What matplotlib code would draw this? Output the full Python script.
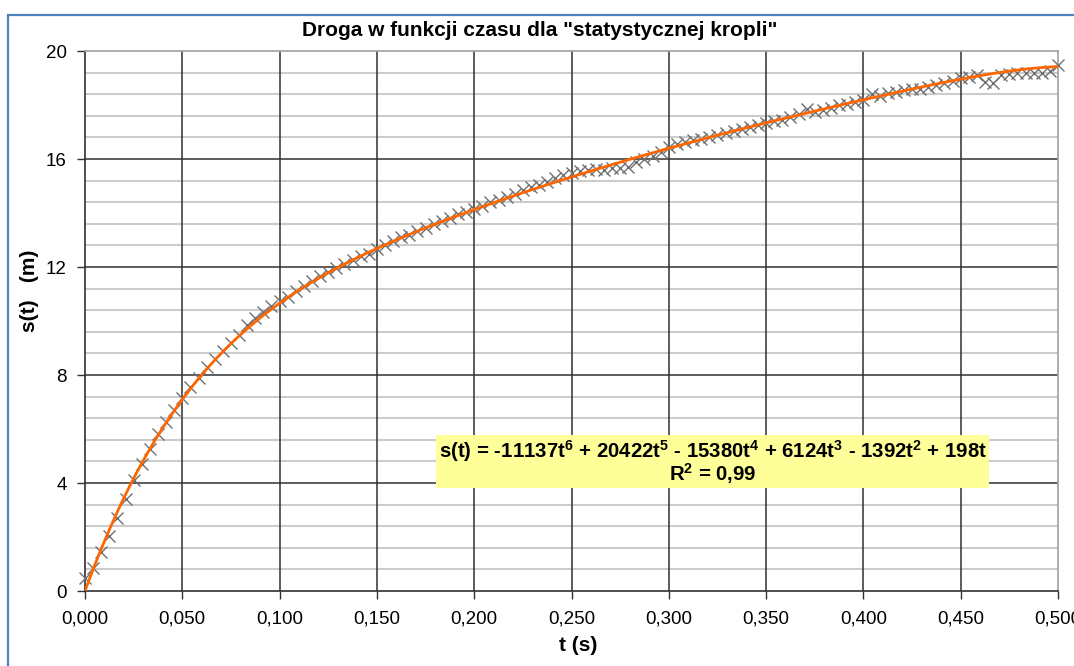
"""Droga w funkcji czasu - Excel-style scatter with polynomial trendline."""
import numpy as np
import matplotlib
matplotlib.use("Agg")
import matplotlib.pyplot as plt
from matplotlib.patches import Rectangle

# ---- data ----
frame_step = 1 / 240  # one marker per frame
s_values = [
    0.50, 0.85, 1.45, 2.05, 2.70, 3.40, 4.10, 4.70, 5.25, 5.80,
    6.25, 6.70, 7.15, 7.55, 7.90, 8.30, 8.60, 8.90, 9.20, 9.50,
    9.85, 10.10, 10.35, 10.55, 10.75, 10.90, 11.10, 11.30, 11.50, 11.65,
    11.80, 11.95, 12.10, 12.25, 12.40, 12.50, 12.65, 12.80, 12.95, 13.10,
    13.20, 13.35, 13.45, 13.60, 13.70, 13.80, 13.95, 14.05, 14.15, 14.25,
    14.40, 14.50, 14.60, 14.70, 14.85, 14.95, 15.05, 15.15, 15.30, 15.40,
    15.50, 15.55, 15.60, 15.62, 15.60, 15.65, 15.68, 15.70, 15.90, 16.00,
    16.10, 16.25, 16.45, 16.55, 16.62, 16.70, 16.75, 16.80, 16.88, 16.95,
    17.05, 17.10, 17.18, 17.25, 17.32, 17.40, 17.45, 17.55, 17.65, 17.85,
    17.75, 17.80, 17.90, 18.00, 18.05, 18.10, 18.20, 18.40, 18.35, 18.45,
    18.50, 18.55, 18.60, 18.60, 18.65, 18.75, 18.80, 18.90, 19.00, 19.05,
    19.10, 18.85, 18.80, 19.10, 19.15, 19.20, 19.20, 19.20, 19.20, 19.25,
    19.48,
]
t_values = np.arange(len(s_values)) * frame_step

# trendline coefficients as printed on the chart (t^6 ... t^1, t^0)
trend_coeffs = [-11137, 20422, -15380, 6124, -1392, 198, 0]

x_ticks = [0.0, 0.05, 0.10, 0.15, 0.20, 0.25, 0.30, 0.35, 0.40, 0.45, 0.50]
x_tick_labels = [f"{v:.3f}".replace(".", ",") for v in x_ticks]
y_ticks = [0, 4, 8, 12, 16, 20]
y_minor = np.arange(0, 20.01, 0.8)

title = 'Droga w funkcji czasu dla "statystycznej kropli"'
eq_text = ("s(t) = -11137t$^6$ + 20422t$^5$ - 15380t$^4$ + 6124t$^3$"
           " - 1392t$^2$ + 198t\nR$^2$ = 0,99")

plt.rcParams["font.family"] = ["Liberation Sans", "DejaVu Sans"]
# small superscripts in the same bold face as the equation
plt.rcParams["mathtext.fontset"] = "custom"
plt.rcParams["mathtext.rm"] = "Liberation Sans:bold"
plt.rcParams["mathtext.it"] = "Liberation Sans:bold"
plt.rcParams["mathtext.bf"] = "Liberation Sans:bold"
plt.rcParams["mathtext.default"] = "rm"

W, H = 1074, 666
fig = plt.figure(figsize=(W / 100, H / 100), dpi=100)

# outer chart frame (blue), cropped by the picture edge
fig.patches.append(Rectangle((8 / W, 0 - 0.1), 1.2, 1 - 15 / H + 0.1,
                             transform=fig.transFigure, fill=False,
                             edgecolor="#4F81BD", linewidth=1.6))

ax = fig.add_axes([85 / W, 1 - 591 / H, 973 / W, 540 / H])
ax.set_xlim(0, 0.5)
ax.set_ylim(0, 20)

# gridlines
for y in y_minor:
    if not np.isclose(y % 4, 0) and not np.isclose(y % 4, 4):
        ax.axhline(y, color="#cccccc", linewidth=1.5, zorder=1)
for y in y_ticks[1:-1]:
    ax.axhline(y, color="#303030", linewidth=1.1, zorder=1)
for x in x_ticks[1:-1]:
    ax.axvline(x, color="#303030", linewidth=1.1, zorder=1)

for side in ("top", "right"):
    ax.spines[side].set_color("#a0a0a0")
    ax.spines[side].set_linewidth(1.2)
for side in ("left", "bottom"):
    ax.spines[side].set_color("#303030")
    ax.spines[side].set_linewidth(1.2)

ax.set_xticks(x_ticks)
ax.set_xticklabels(x_tick_labels)
ax.set_yticks(y_ticks)
ax.tick_params(axis="both", direction="out", length=6, width=1,
               color="#303030", labelsize=13.5, pad=8)
ax.tick_params(axis="y", pad=7)

# data markers
ax.plot(t_values, s_values, linestyle="none", marker="x", markersize=8.5,
        markeredgewidth=1.0, color="#707070", zorder=3, clip_on=False)

# polynomial trendline
t_fine = np.linspace(0, 0.5, 400)
ax.plot(t_fine, np.polyval(trend_coeffs, t_fine), color="#FF6600",
        linewidth=2.0, zorder=4)

ax.set_xlabel("t (s)", fontsize=15, fontweight="bold")
ax.xaxis.set_label_coords(0.507, -0.083)
ax.set_ylabel("s(t)   (m)", fontsize=15, fontweight="bold")
ax.yaxis.set_label_coords(-0.047, 0.556)

ax.text(0.645, 0.239, eq_text, transform=ax.transAxes, ha="center",
        va="center", fontsize=14.7, fontweight="bold", linespacing=0.82,
        zorder=6,
        bbox=dict(boxstyle="square,pad=0.12", facecolor="#FFFF99",
                  edgecolor="none"))

fig.text(540 / W, 1 - 31 / H, title, ha="center", va="center",
         fontsize=15, fontweight="bold")

fig.savefig("out.png", dpi=100)
